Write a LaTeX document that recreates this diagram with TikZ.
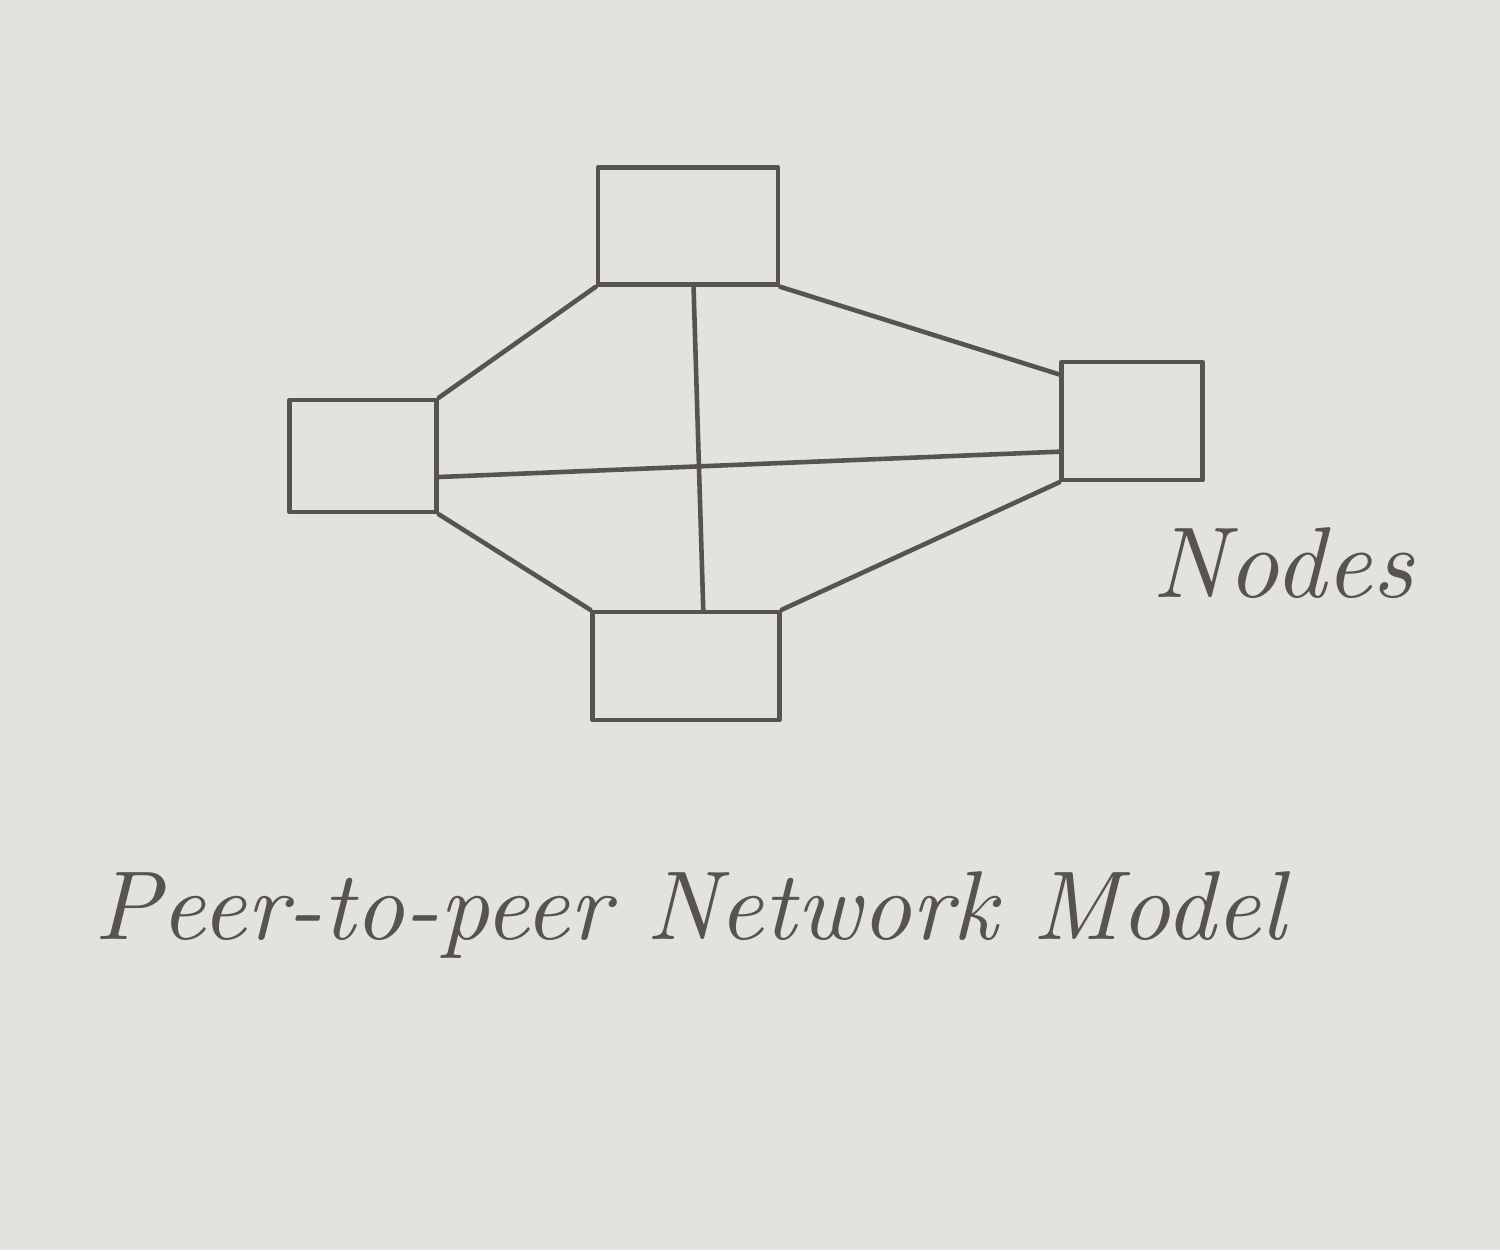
\documentclass[tikz,border=0pt]{standalone}
\usepackage{graphicx}
\usetikzlibrary{calc}
\definecolor{paper}{RGB}{226,226,223}
\definecolor{pencil}{RGB}{88,82,80}
\begin{document}
\begin{tikzpicture}[x=0.01cm,y=-0.01cm,
  peer/.style={draw=pencil,line width=1.3pt,inner sep=0pt,line join=round},
  link/.style={draw=pencil,line width=1.3pt,line cap=round},
  hand/.style={text=pencil,font=\itshape}]
\fill[paper] (0,0) rectangle (1500,1250);
\useasboundingbox (0,0) rectangle (1500,1250);
\node[peer,minimum width=1.80cm,minimum height=1.17cm] (top) at (688,226) {};
\node[peer,minimum width=1.47cm,minimum height=1.12cm] (left) at (363,456) {};
\node[peer,minimum width=1.41cm,minimum height=1.18cm] (right) at (1132,421) {};
\node[peer,minimum width=1.87cm,minimum height=1.08cm] (bottom) at (686,666) {};
\draw[link] (top.south west) -- (left.north east);
\draw[link] (top.south east) -- ($(right.north west)!0.12!(right.south west)$);
\draw[link] (left.south east) -- (bottom.north west);
\draw[link] (bottom.north east) -- (right.south west);
\draw[link] ($(top.south west)!0.53!(top.south east)$) -- ($(bottom.north west)!0.59!(bottom.north east)$);
\draw[link] ($(left.north east)!0.68!(left.south east)$) -- ($(right.north west)!0.75!(right.south west)$);
\node[hand] (nodes) at (1283,563) {\resizebox{2.6cm}{!}{Nodes}};
\node[hand] (title) at (690,915) {\resizebox{11.9cm}{!}{Peer-to-peer Network Model}};
\end{tikzpicture}
\end{document}
